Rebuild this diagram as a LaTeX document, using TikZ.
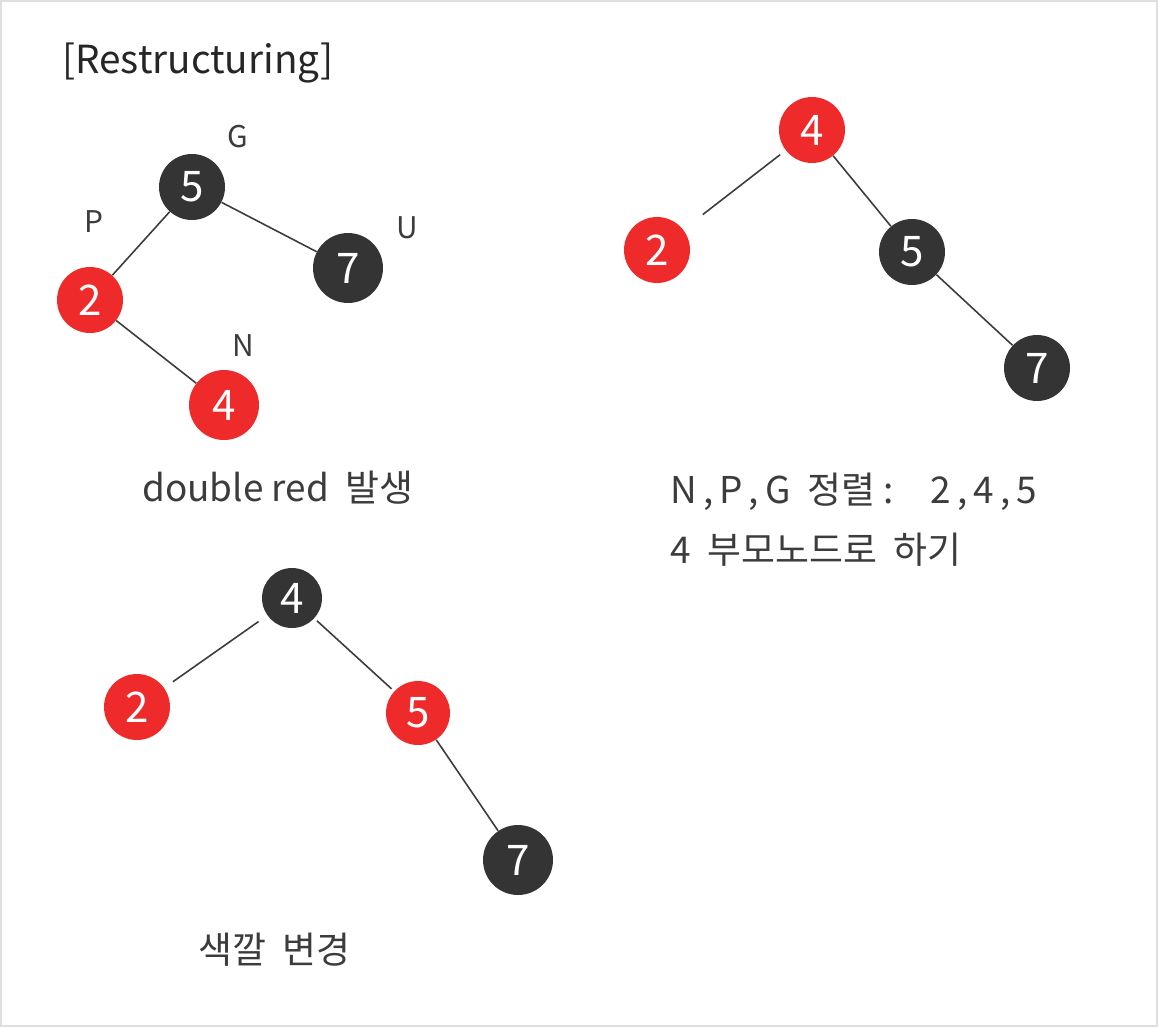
\documentclass[tikz,border=0pt]{standalone}
\usepackage{fontspec}
\setmainfont{Noto Sans CJK KR}
\usepackage{tikz}
\usetikzlibrary{positioning, calc}
\definecolor{rbred}{RGB}{238,42,42}
\definecolor{rbblack}{RGB}{52,52,52}
\definecolor{inkgray}{RGB}{60,60,60}

\begin{document}
\begin{tikzpicture}[
    x=0.02cm, y=-0.02cm,
    rbnode/.style={circle, minimum size=1.32cm, inner sep=0pt, text=white, font=\fontsize{24}{28}\selectfont},
    rednode/.style={rbnode, fill=rbred},
    blacknode/.style={rbnode, fill=rbblack},
    edge/.style={draw=inkgray, line width=0.9pt},
    tag/.style={text=inkgray, font=\fontsize{17}{20}\selectfont},
    note/.style={text=inkgray, font=\fontsize{21}{25}\selectfont, anchor=west},
]
    % Page
    \fill[white] (0,0) rectangle (1158,1027);
    \draw[gray!25, line width=1pt] (1,1) rectangle (1157,1026);
    \useasboundingbox (0,0) rectangle (1158,1027);

    % Title
    \node[anchor=west, font=\fontsize{22}{26}\selectfont, text=black!85] (title) at (56,63) {[Restructuring]};

    % Tree 1: double red
    \node[blacknode] (g1) at (192,187) {5};
    \node[blacknode, minimum size=1.4cm] (u1) at (348,268) {7};
    \node[rednode] (p1) at (90,300) {2};
    \node[rednode, minimum size=1.4cm] (n1) at (224,405) {4};

    \node[tag] (gtag) at (238,137) {G};
    \node[tag] (ptag) at (94,222) {P};
    \node[tag] (utag) at (407,228) {U};
    \node[tag] (ntag) at (243,346) {N};

    \draw[edge] (g1) -- (p1);
    \draw[edge] (g1) -- (u1);
    \draw[edge] (p1) -- (n1);

    \node[note] (note1) at (136,488) {double red\ \ 발생};

    % Tree 2: sorted N, P, G
    \node[rednode] (g2) at (812,130) {4};
    \node[rednode] (p2) at (657,250) {2};
    \node[blacknode] (n2) at (912,252) {5};
    \node[blacknode] (u2) at (1037,368) {7};

    \draw[edge, shorten <=4pt, shorten >=14pt] (g2) -- (p2);
    \draw[edge] (g2) -- (n2);
    \draw[edge] (n2) -- (u2);

    \node[note] (note2) at (664,492) {N\,,\,P\,,\,G\ \ 정렬 :\quad 2\,,\,4\,,\,5};
    \node[note] (note3) at (664,550) {4\ \ 부모노드로\ \ 하기};

    % Tree 3: recolouring
    \node[blacknode, minimum size=1.2cm] (g3) at (292,598) {4};
    \node[rednode] (p3) at (137,707) {2};
    \node[rednode, minimum size=1.28cm] (n3) at (418,713) {5};
    \node[blacknode, minimum size=1.4cm] (u3) at (518,860) {7};

    \draw[edge, shorten <=6pt, shorten >=6pt] (g3) -- (p3);
    \draw[edge, shorten <=2pt, shorten >=2pt] (g3) -- (n3);
    \draw[edge] (n3) -- (u3);

    \node[note] (note4) at (192,950) {색깔\ \ 변경};

\end{tikzpicture}
\end{document}
